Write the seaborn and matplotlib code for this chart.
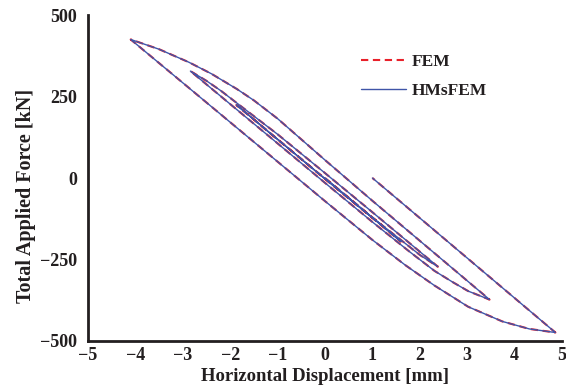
import matplotlib
matplotlib.use("Agg")
import matplotlib.pyplot as plt
from matplotlib.lines import Line2D
import seaborn as sns
import pandas as pd

# Path of the hysteresis response, in loading order
disp_hmsfem = [0.0, 0.8, 1.2, 1.6,
               0.5, -0.5, -1.2, -1.6, -1.87,
               -1.0, 0.0, 1.0, 1.6, 2.0, 2.38,
               1.0, 0.0, -1.0, -1.7, -2.2, -2.5, -2.84,
               -1.0, 0.0, 1.0, 1.8, 2.31, 2.7, 3.02, 3.47,
               1.0, 0.0, -1.0, -1.5, -1.86, -2.4, -2.87, -3.5, -4.1,
               -2.0, 0.0, 1.0, 1.7, 2.31, 3.02, 3.74, 4.31, 4.86,
               1.0]
force_hmsfem = [0, -97, -145, -195,
                -62, 58, 142, 192, 224,
                119, -3, -122, -190, -236, -272,
                -105, 15, 134, 212, 268, 298, 328,
                106, -15, -135, -228, -285, -320, -347, -373,
                -70, 55, 182, 238, 273, 320, 355, 395, 425,
                171, -71, -190, -268, -330, -395, -440, -463, -474,
                0]
disp_fem = list(disp_hmsfem)
force_fem = list(force_hmsfem)

xticks = [-5, -4, -3, -2, -1, 0, 1, 2, 3, 4, 5]
yticks = [-500, -250, 0, 250, 500]

sns.set_theme(style="white")
plt.rcParams["font.family"] = ["Liberation Serif", "DejaVu Serif"]
plt.rcParams["font.weight"] = "bold"

df_hms = pd.DataFrame({"d": disp_hmsfem, "f": force_hmsfem})
df_fem = pd.DataFrame({"d": disp_fem, "f": force_fem})

fig = plt.figure(figsize=(5.66, 3.87), dpi=100)
ax = fig.add_axes([0.1555, 0.1189, 0.8375, 0.8423])

red = "#e8202a"
blue = "#3f55a8"
sns.lineplot(data=df_fem, x="d", y="f", sort=False, estimator=None, ax=ax,
             color=red, linewidth=1.5, linestyle=(0, (3.5, 2.2)))
sns.lineplot(data=df_hms, x="d", y="f", sort=False, estimator=None, ax=ax,
             color=blue, linewidth=1.0)

ax.set_xlim(-5, 5)
ax.set_ylim(-500, 500)
ax.set_xticks(xticks)
ax.set_yticks(yticks)
ax.set_xticklabels([str(t).replace("-", "\u2212") for t in xticks])
ax.set_yticklabels([str(t).replace("-", "\u2212") for t in yticks])
for s in ["top", "right"]:
    ax.spines[s].set_visible(False)
for s in ["left", "bottom"]:
    ax.spines[s].set_linewidth(2.0)
    ax.spines[s].set_color("#231f20")
ax.tick_params(direction="in", length=4, width=1.5, colors="#231f20",
               labelsize=13)
ax.tick_params(axis="y", pad=8)
ax.tick_params(axis="x", pad=4)
for lab in ax.get_xticklabels() + ax.get_yticklabels():
    lab.set_fontweight("bold")
ax.set_xlabel("Horizontal Displacement [mm]", fontsize=13.5, fontweight="bold",
              color="#231f20", labelpad=3)
ax.set_ylabel("Total Applied Force [kN]", fontsize=14.5, fontweight="bold",
              color="#231f20")
ax.yaxis.set_label_coords(-0.11, 0.445)

handles = [Line2D([], [], color=red, linewidth=1.5, linestyle=(0, (3.5, 2.2))),
           Line2D([], [], color=blue, linewidth=1.0)]
leg = ax.legend(handles, ["FEM", "HMsFEM"], loc="upper left",
                bbox_to_anchor=(0.543, 0.93), frameon=False, handlelength=2.6,
                handletextpad=0.3, labelspacing=0.75,
                prop={"family": "Liberation Serif", "weight": "bold", "size": 12.5})
for t in leg.get_texts():
    t.set_color("#231f20")

fig.savefig("out.png", dpi=100)
